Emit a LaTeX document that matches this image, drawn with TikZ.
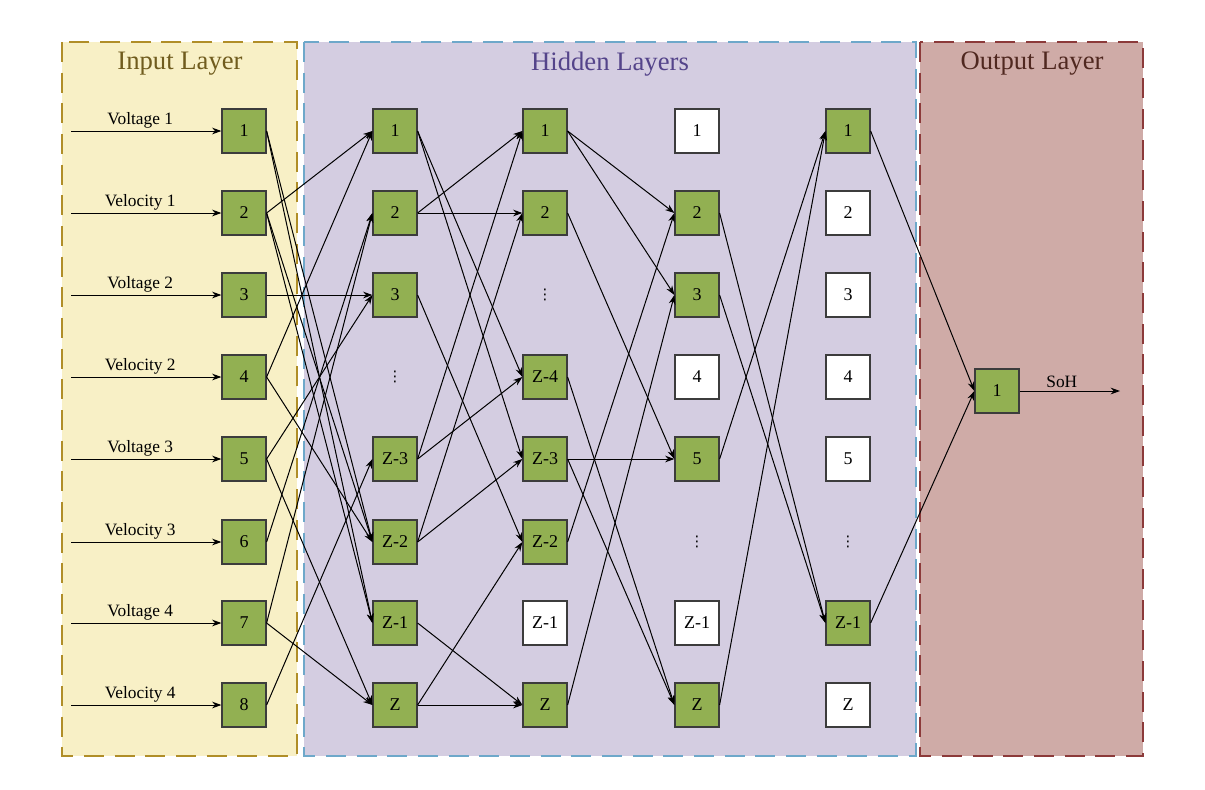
\documentclass[tikz,border=0pt]{standalone}
\usepackage{fontspec}
\setmainfont{Liberation Serif}
\newfontfamily\dotsfont{DejaVu Sans}
\usetikzlibrary{arrows.meta}

\tikzset{every picture/.style={line width=0.75pt}}

\begin{document}
\begin{tikzpicture}[x=0.75pt,y=0.75pt,yscale=-1,xscale=1,
  unit/.style={draw={rgb, 255:red, 60; green, 60; blue, 60 },fill={rgb, 255:red, 146; green, 176; blue, 82 },line width=0.9,minimum size=33pt,inner sep=0pt,font=\fontsize{13.5}{15}\selectfont},
  idle/.style={unit,fill=white},
  dots/.style={inner sep=0pt,font=\dotsfont\fontsize{11}{13}\selectfont},
  link/.style={-{Stealth[length=7pt,width=5pt]}},
  feed/.style={link,font=\fontsize{13}{15}\selectfont},
  panel/.style={line width=1.6,dash pattern=on 15pt off 8pt},
  title/.style={font=\fontsize{20}{24}\selectfont}]
\useasboundingbox (0,0) rectangle (1205,789);

%Panels
\draw [panel,color={rgb, 255:red, 176; green, 142; blue, 40 },fill={rgb, 255:red, 248; green, 240; blue, 198 }] (62,42) rectangle (297,756) ;
\draw [panel,color={rgb, 255:red, 110; green, 168; blue, 202 },fill={rgb, 255:red, 212; green, 205; blue, 225 }] (304,42) rectangle (916,756) ;
\draw [panel,color={rgb, 255:red, 140; green, 58; blue, 58 },fill={rgb, 255:red, 207; green, 171; blue, 167 }] (920,42) rectangle (1143,756) ;

% Titles
\draw (180,64) node [title,color={rgb, 255:red, 112; green, 92; blue, 30 }] (tin) {Input Layer};
\draw (610,64) node [title,color={rgb, 255:red, 84; green, 68; blue, 138 }] (thid) {Hidden Layers};
\draw (1032,64) node [title,color={rgb, 255:red, 80; green, 40; blue, 32 }] (tout) {Output Layer};

% Input layer
\node [unit] (in1) at (244,131) {1};
\node [unit] (in2) at (244,213) {2};
\node [unit] (in3) at (244,295) {3};
\node [unit] (in4) at (244,377) {4};
\node [unit] (in5) at (244,459) {5};
\node [unit] (in6) at (244,542) {6};
\node [unit] (in7) at (244,623) {7};
\node [unit] (in8) at (244,705) {8};

\coordinate (s1) at (71,131);
\coordinate (s2) at (71,213);
\coordinate (s3) at (71,295);
\coordinate (s4) at (71,377);
\coordinate (s5) at (71,459);
\coordinate (s6) at (71,542);
\coordinate (s7) at (71,623);
\coordinate (s8) at (71,705);

\draw [feed] (s1) -- node [above,pos=0.46,inner sep=2pt] {Voltage 1} (in1) ;
\draw [feed] (s2) -- node [above,pos=0.46,inner sep=2pt] {Velocity 1} (in2) ;
\draw [feed] (s3) -- node [above,pos=0.46,inner sep=2pt] {Voltage 2} (in3) ;
\draw [feed] (s4) -- node [above,pos=0.46,inner sep=2pt] {Velocity 2} (in4) ;
\draw [feed] (s5) -- node [above,pos=0.46,inner sep=2pt] {Voltage 3} (in5) ;
\draw [feed] (s6) -- node [above,pos=0.46,inner sep=2pt] {Velocity 3} (in6) ;
\draw [feed] (s7) -- node [above,pos=0.46,inner sep=2pt] {Voltage 4} (in7) ;
\draw [feed] (s8) -- node [above,pos=0.46,inner sep=2pt] {Velocity 4} (in8) ;

% Hidden layer 1
\node [unit] (a1) at (395,131) {1};
\node [unit] (a2) at (395,213) {2};
\node [unit] (a3) at (395,295) {3};
\node [dots] (adots) at (395,377) {⋮};
\node [unit] (az3) at (395,459) {Z-3};
\node [unit] (az2) at (395,542) {Z-2};
\node [unit] (az1) at (395,623) {Z-1};
\node [unit] (az) at (395,705) {Z};

% Hidden layer 2
\node [unit] (b1) at (545,131) {1};
\node [unit] (b2) at (545,213) {2};
\node [dots] (bdots) at (545,295) {⋮};
\node [unit] (bz4) at (545,377) {Z-4};
\node [unit] (bz3) at (545,459) {Z-3};
\node [unit] (bz2) at (545,542) {Z-2};
\node [idle] (bz1) at (545,623) {Z-1};
\node [unit] (bz) at (545,705) {Z};

% Hidden layer 3
\node [idle] (c1) at (697,131) {1};
\node [unit] (c2) at (697,213) {2};
\node [unit] (c3) at (697,295) {3};
\node [idle] (c4) at (697,377) {4};
\node [unit] (c5) at (697,459) {5};
\node [dots] (cdots) at (697,542) {⋮};
\node [idle] (cz1) at (697,623) {Z-1};
\node [unit] (cz) at (697,705) {Z};

% Hidden layer 4
\node [unit] (d1) at (848,131) {1};
\node [idle] (d2) at (848,213) {2};
\node [idle] (d3) at (848,295) {3};
\node [idle] (d4) at (848,377) {4};
\node [idle] (d5) at (848,459) {5};
\node [dots] (ddots) at (848,542) {⋮};
\node [unit] (dz1) at (848,623) {Z-1};
\node [idle] (dz) at (848,705) {Z};

% Output layer
\node [unit] (out) at (997,391) {1};
\coordinate (soh) at (1120,391);

% Input -> hidden 1
\draw [link] (in1.east) -- (az2.west) ;
\draw [link] (in1.east) -- (az1.west) ;
\draw [link] (in2.east) -- (a1.west) ;
\draw [link] (in2.east) -- (az2.west) ;
\draw [link] (in2.east) -- (az1.west) ;
\draw [link] (in3.east) -- (a3.west) ;
\draw [link] (in4.east) -- (a1.west) ;
\draw [link] (in4.east) -- (az2.west) ;
\draw [link] (in5.east) -- (a3.west) ;
\draw [link] (in5.east) -- (az.west) ;
\draw [link] (in6.east) -- (a2.west) ;
\draw [link] (in7.east) -- (a2.west) ;
\draw [link] (in7.east) -- (az.west) ;
\draw [link] (in8.east) -- (az3.west) ;

% Hidden 1 -> hidden 2
\draw [link] (a1.east) -- (bz4.west) ;
\draw [link] (a1.east) -- (bz3.west) ;
\draw [link] (a2.east) -- (b1.west) ;
\draw [link] (a2.east) -- (b2.west) ;
\draw [link] (a3.east) -- (bz2.west) ;
\draw [link] (az3.east) -- (b1.west) ;
\draw [link] (az3.east) -- (bz4.west) ;
\draw [link] (az2.east) -- (b2.west) ;
\draw [link] (az2.east) -- (bz3.west) ;
\draw [link] (az1.east) -- (bz.west) ;
\draw [link] (az.east) -- (bz.west) ;
\draw [link] (az.east) -- (bz2.west) ;

% Hidden 2 -> hidden 3
\draw [link] (b1.east) -- (c2.west) ;
\draw [link] (b1.east) -- (c3.west) ;
\draw [link] (b2.east) -- (c5.west) ;
\draw [link] (bz4.east) -- (cz.west) ;
\draw [link] (bz3.east) -- (c5.west) ;
\draw [link] (bz3.east) -- (cz.west) ;
\draw [link] (bz2.east) -- (c2.west) ;
\draw [link] (bz.east) -- (c3.west) ;

% Hidden 3 -> hidden 4
\draw [link] (c2.east) -- (dz1.west) ;
\draw [link] (c3.east) -- (dz1.west) ;
\draw [link] (c5.east) -- (d1.west) ;
\draw [link] (cz.east) -- (d1.west) ;

% Hidden 4 -> output
\draw [link] (d1.east) -- (out.west) ;
\draw [link] (dz1.east) -- (out.west) ;
\draw [feed] (out.east) -- node [above,pos=0.42,inner sep=2pt] {SoH} (soh) ;

\end{tikzpicture}
\end{document}
